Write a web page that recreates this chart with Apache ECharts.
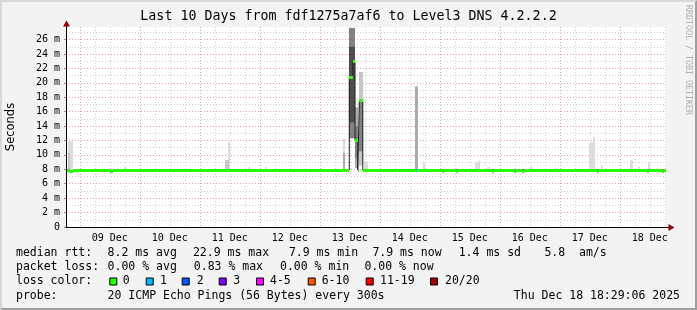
<!DOCTYPE html>
<html><head><meta charset="utf-8">
<script src="https://cdn.jsdelivr.net/npm/echarts@6/dist/echarts.min.js"></script>
<style>
html,body{margin:0;padding:0;background:#f3f3f3;}
#wrap{position:relative;width:697px;height:310px;}
#c{position:absolute;left:0;top:0;width:697px;height:310px;}
#frame{position:absolute;left:0;top:0;width:697px;height:310px;box-sizing:border-box;border-top:2px solid #d8d8d8;border-left:2px solid #d8d8d8;border-right:2px solid #9e9e9e;border-bottom:2px solid #9e9e9e;pointer-events:none;}
</style></head><body>
<div id="wrap"><div id="c"></div><div id="frame"></div></div>
<script>
// ---------------- data (hours after 08 Dec 00:00, values in ms) ----------------
const START_H = 18.483;           // 08 Dec 18:29
const END_H = 258.483;            // 18 Dec 18:29
const Y_MAX = 27.74;
const dayNames = ['08 Dec','09 Dec','10 Dec','11 Dec','12 Dec','13 Dec','14 Dec','15 Dec','16 Dec','17 Dec','18 Dec'];

// median rtt runs: [fromHour, toHour, ms, lossIndex]
const medianRuns = [
  [18.48, 19.7, 7.9, 0], [19.7, 21.3, 7.75, 0], [21.3, 36.1, 7.9, 0], [36.1, 37.3, 7.75, 0],
  [37.3, 131.8, 7.9, 0], [131.8, 133.2, 20.7, 0], [133.2, 134.1, 22.9, 0], [134.1, 135.2, 12.0, 0],
  [135.2, 135.8, 7.9, 0], [135.8, 137.2, 17.5, 0], [137.2, 158.3, 7.9, 0], [158.3, 158.9, 7.9, 1],
  [158.9, 169.0, 7.9, 0], [169.0, 169.8, 7.75, 0], [169.8, 174.4, 7.9, 0], [174.4, 175.2, 7.75, 0],
  [175.2, 189.0, 7.9, 0], [189.0, 189.8, 7.75, 0], [189.8, 197.7, 7.9, 0], [197.7, 198.5, 7.75, 0],
  [198.5, 201.0, 7.9, 0], [201.0, 201.8, 7.75, 0], [201.8, 231.0, 7.9, 0], [231.0, 231.8, 7.75, 0],
  [231.8, 251.0, 7.9, 0], [251.0, 251.8, 7.75, 0], [251.8, 257.0, 7.9, 0], [257.0, 257.8, 7.75, 0],
  [257.8, 258.48, 7.9, 0]
];

// smoke (ping spread): [fromHour, toHour, lowMs, highMs, densityLevel 1..5]
const smoke = [
  [19.3, 21.3, 7.9, 11.9, 1], [19.3, 20.1, 7.9, 10.3, 2],
  [41.7, 42.9, 7.9, 8.3, 1],
  [82.1, 83.7, 7.9, 9.3, 2], [83.4, 84.1, 7.9, 11.8, 1],
  [91.3, 92.1, 7.9, 8.3, 1], [98.1, 98.9, 7.9, 8.3, 1],
  [129.1, 130.1, 7.9, 12.3, 1], [129.3, 130.1, 7.9, 10.3, 3],
  [131.8, 134.1, 12.3, 27.6, 4], [131.8, 134.1, 14.5, 25.0, 5],
  [134.1, 135.2, 8.2, 16.6, 3], [134.1, 135.2, 9.5, 14.0, 4],
  [135.8, 137.2, 8.5, 21.5, 2], [135.8, 137.2, 10.5, 17.6, 4],
  [137.5, 139.3, 7.9, 9.1, 1],
  [158.1, 159.3, 7.9, 19.5, 3],
  [161.3, 162.1, 7.9, 8.9, 1],
  [182.1, 183.3, 7.9, 8.9, 1], [183.3, 184.1, 7.9, 9.2, 1],
  [186.9, 188.1, 7.9, 8.3, 1], [203.7, 205.3, 7.9, 8.3, 1], [214.1, 215.3, 7.9, 8.2, 1],
  [227.7, 229.3, 7.9, 11.7, 1], [229.3, 230.1, 7.9, 12.4, 1],
  [232.3, 233.1, 7.9, 8.6, 1],
  [244.1, 245.3, 7.9, 9.3, 1], [247.3, 248.1, 7.9, 8.4, 1], [251.3, 252.1, 7.9, 8.9, 1]
];

const lossLabels = ['0','1','2','3','4-5','6-10','11-19','20/20'];
const rttLegend = ['median rtt:', '8.2 ms avg', '22.9 ms max', '7.9 ms min', '7.9 ms now', '1.4 ms sd', '5.8', 'am/s'];
const lossLegend = ['packet loss:', '0.00 % avg', '0.83 % max', '0.00 % min', '0.00 % now'];
const probeLegend = ['probe:', '20 ICMP Echo Pings (56 Bytes) every 300s'];
const stampText = 'Thu Dec 18 18:29:06 2025';
const titleText = 'Last 10 Days from fdf1275a7af6 to Level3 DNS 4.2.2.2';

// ---------------- styles / layout ----------------
const lossColors = ['#26ff00','#00b8ff','#0059ff','#7e00ff','#ff00ff','#ff5500','#ff0000','#a10000'];
const smokeShades = [null, '#dcdcdc', '#c6c6c6', '#acacac', '#828282', '#4e4e4e'];
const MONO = 'DejaVu Sans Mono';
const L = 66, T = 27, W = 600, H = 200;
const pxPerHour = W / (END_H - START_H);
const pxPerMs = H / Y_MAX;
const xToPx = h => L + (h - START_H) * pxPerHour;
const yToPx = v => T + H - v * pxPerMs;
function subGrid(x0, x1, y0, y1) {
  return { left: xToPx(x0), width: xToPx(x1) - xToPx(x0), top: yToPx(y1), height: yToPx(y0) - yToPx(y1), show: false };
}
const rttX = [16, 107.6, 192.9, 288.9, 372.4, 458.7, 544.4, 579];
const lossX = [16, 107.6, 193.8, 280, 364.4];
const lossBoxX = [109.3, 145.7, 181.7, 218.7, 256, 307.7, 365.7, 430];
const lossLabelX = [122.7, 160, 196.7, 233.3, 270, 321.7, 380, 445];
const rowY = [253, 267.5, 281.5, 296];
const GRAY = '#cfcfcf', RED = '#e3a3a3';

const hidden = { show: false };
const grids = [
  { left: L, top: T, width: W, height: H, show: true, backgroundColor: '#ffffff', borderWidth: 0, z: -1 },
  subGrid(24, 258, 0, Y_MAX),   // 1: 6-hour minor lines
  subGrid(24, 240, 0, Y_MAX),   // 2: day major lines
  subGrid(36, 252, 0, Y_MAX),   // 3: day labels (noon)
  subGrid(START_H, END_H, 0, 27), // 4: 1 ms minor lines
  subGrid(START_H, END_H, 0, 26)  // 5: 2 ms major lines + labels
];

const xAxes = [
  { gridIndex: 0, type: 'value', min: START_H, max: END_H, z: 5,
    axisLine: { show: true, onZero: false, lineStyle: { color: '#000', width: 1 } },
    axisTick: hidden, axisLabel: hidden, splitLine: hidden },
  { gridIndex: 1, type: 'value', min: 24, max: 258, interval: 6, z: 0,
    axisLine: hidden, axisTick: hidden, axisLabel: hidden,
    splitLine: { show: true, lineStyle: { color: GRAY, width: 1, type: [1, 2] } } },
  { gridIndex: 2, type: 'value', min: 24, max: 240, interval: 24, z: 1,
    axisLine: hidden, axisTick: hidden, axisLabel: hidden,
    splitLine: { show: true, lineStyle: { color: RED, width: 1, type: [1, 2] } } },
  { gridIndex: 3, type: 'value', min: 36, max: 252, interval: 24, z: 1,
    axisLine: hidden, axisTick: hidden, splitLine: hidden,
    axisLabel: { show: true, margin: 6, fontFamily: MONO, fontSize: 10, color: '#000',
      formatter: v => dayNames[Math.floor(v / 24)] } },
  { gridIndex: 4, type: 'value', min: START_H, max: END_H, show: false },
  { gridIndex: 5, type: 'value', min: START_H, max: END_H, show: false }
];

const yAxes = [
  { gridIndex: 0, type: 'value', position: 'left', min: 0, max: Y_MAX, z: 5,
    axisLine: { show: true, onZero: false, lineStyle: { color: '#000', width: 1 } },
    axisTick: hidden, axisLabel: hidden, splitLine: hidden },
  { gridIndex: 1, type: 'value', min: 0, max: Y_MAX, show: false },
  { gridIndex: 2, type: 'value', min: 0, max: Y_MAX, show: false },
  { gridIndex: 3, type: 'value', min: 0, max: Y_MAX, show: false },
  { gridIndex: 4, type: 'value', position: 'left', min: 0, max: 27, interval: 1, z: 0,
    axisLine: hidden, axisTick: hidden, axisLabel: hidden,
    splitLine: { show: true, lineStyle: { color: GRAY, width: 1, type: [1, 2] } } },
  { gridIndex: 5, type: 'value', position: 'left', min: 0, max: 26, interval: 2, z: 1,
    axisLine: hidden,
    axisTick: { show: true, length: 2, lineStyle: { color: '#c07070' } },
    axisLabel: { show: true, margin: 6, fontFamily: MONO, fontSize: 10, color: '#000',
      formatter: v => (v === 0 ? '0' : v + ' m') },
    splitLine: { show: true, lineStyle: { color: RED, width: 1, type: [1, 2] } } }
];

const smokeSorted = smoke.slice().sort((a, b) => a[4] - b[4]);
const medianLine = medianRuns.map(r => [r[0], r[2]]);
medianLine.push([medianRuns[medianRuns.length - 1][1], medianRuns[medianRuns.length - 1][2]]);

const series = [
  { type: 'custom', xAxisIndex: 0, yAxisIndex: 0, z: 2, silent: true, clip: true,
    data: smokeSorted,
    encode: { x: [0, 1], y: [2, 3] },
    renderItem(params, api) {
      const p0 = api.coord([api.value(0), api.value(3)]);
      const p1 = api.coord([api.value(1), api.value(2)]);
      const x0 = Math.round(p0[0]), x1 = Math.round(p1[0]);
      return { type: 'rect', shape: { x: x0, y: p0[1], width: Math.max(1, x1 - x0), height: p1[1] - p0[1] },
        style: { fill: smokeShades[api.value(4)] } };
    } },
  { type: 'line', xAxisIndex: 0, yAxisIndex: 0, z: 3, step: 'end', data: medianLine,
    symbol: 'none', silent: true, lineStyle: { color: '#202020', width: 1 } },
  { type: 'custom', xAxisIndex: 0, yAxisIndex: 0, z: 4, silent: true, clip: true,
    data: medianRuns,
    encode: { x: [0, 1], y: 2 },
    renderItem(params, api) {
      const p0 = api.coord([api.value(0), api.value(2)]);
      const p1 = api.coord([api.value(1), api.value(2)]);
      const x0 = Math.round(p0[0]), x1 = Math.round(p1[0]);
      return { type: 'rect', shape: { x: x0, y: Math.round(p0[1] - 1.5), width: Math.max(1, x1 - x0), height: 3 },
        style: { fill: lossColors[api.value(3)] } };
    } }
];

// ---------------- decorations / legend ----------------
const txt = (text, x, y, opts) => Object.assign({ type: 'text', silent: true, x: x, y: y,
  style: Object.assign({ text: text, fontFamily: MONO, fontSize: 11.5, fill: '#000', textAlign: 'left', textVerticalAlign: 'middle', verticalAlign: 'middle' }, opts || {}) });
const graphics = [];
rttLegend.forEach((t, i) => graphics.push(txt(t, rttX[i], rowY[0])));
lossLegend.forEach((t, i) => graphics.push(txt(t, lossX[i], rowY[1])));
graphics.push(txt('loss color:', 16, rowY[2]));
lossLabels.forEach((t, i) => {
  graphics.push({ type: 'rect', silent: true, shape: { x: lossBoxX[i] + 0.5, y: rowY[2] - 3.5, width: 7, height: 7 },
    style: { fill: lossColors[i], stroke: '#000', lineWidth: 1 } });
  graphics.push(txt(t, lossLabelX[i], rowY[2]));
});
graphics.push(txt(probeLegend[0], 16, rowY[3]));
graphics.push(txt(probeLegend[1], 107.6, rowY[3]));
graphics.push(txt(stampText, 680, rowY[3], { textAlign: 'right', align: 'right' }));
// y-axis name
graphics.push({ type: 'text', silent: true, x: 11, y: 127, rotation: Math.PI / 2,
  style: { text: 'Seconds', fontFamily: 'DejaVu Sans', fontSize: 11.5, fill: '#000', align: 'center', verticalAlign: 'middle', textAlign: 'center', textVerticalAlign: 'middle' } });
// watermark
graphics.push({ type: 'text', silent: true, x: 688, y: 5, rotation: -Math.PI / 2,
  style: { text: 'RRDTOOL / TOBI OETIKER', fontFamily: MONO, fontSize: 8.3, fill: '#b0b0b0', align: 'left', verticalAlign: 'middle', textAlign: 'left', textVerticalAlign: 'middle' } });
// axis extensions and arrows
graphics.push({ type: 'line', silent: true, shape: { x1: L + 0.5, y1: T, x2: L + 0.5, y2: 24 }, style: { stroke: '#000', lineWidth: 1 } });
graphics.push({ type: 'polygon', silent: true, shape: { points: [[L + 0.5, 20.5], [L - 3, 26.5], [L + 4, 26.5]] }, style: { fill: '#9a0000' } });
graphics.push({ type: 'line', silent: true, shape: { x1: L + W, y1: T + H + 0.5, x2: L + W + 3, y2: T + H + 0.5 }, style: { stroke: '#000', lineWidth: 1 } });
graphics.push({ type: 'polygon', silent: true, shape: { points: [[L + W + 8.5, T + H + 0.5], [L + W + 2.5, T + H - 3], [L + W + 2.5, T + H + 4]] }, style: { fill: '#9a0000' } });

const chart = echarts.init(document.getElementById('c'), null, { renderer: 'canvas' });
chart.setOption({
  backgroundColor: '#f3f3f3',
  animation: false,
  title: { text: titleText, left: 'center', top: 10, padding: 0,
    textStyle: { fontFamily: MONO, fontSize: 13.3, fontWeight: 'normal', color: '#000' } },
  grid: grids,
  xAxis: xAxes,
  yAxis: yAxes,
  series: series,
  graphic: graphics
});
</script>
</body></html>
